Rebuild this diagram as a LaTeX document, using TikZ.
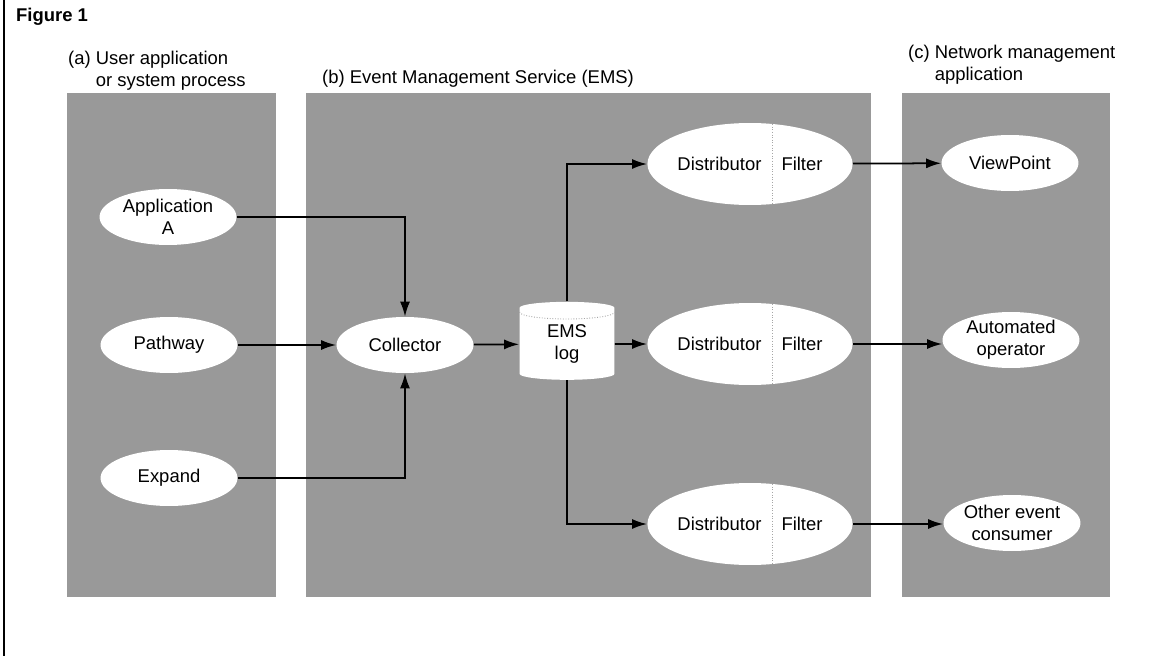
\documentclass[tikz,border=0pt]{standalone}
\usepackage{fontspec}
\setmainfont{Liberation Sans}
\usetikzlibrary{shapes.geometric,positioning,calc,arrows.meta}

\begin{document}
\begin{tikzpicture}[x=0.02cm,y=-0.02cm,
    every node/.style={font=\fontsize{10.5}{12.5}\selectfont},
    panel/.style={fill=black!40,draw=none},
    proc/.style={ellipse,fill=white,inner sep=0pt,align=center,
        minimum width=2.74cm,minimum height=1.12cm},
    distbox/.style={ellipse,fill=white,inner sep=0pt,
        minimum width=3.56cm,minimum height=1.64cm},
    store/.style={cylinder,shape border rotate=90,aspect=0.3,fill=white,
        inner sep=0pt,align=center,minimum width=1.9cm,minimum height=1.56cm},
    flow/.style={-{Latex[length=3mm,width=2mm]},line width=1pt},
    split/.style={black!35,densely dotted,line width=0.5pt},
    heading/.style={anchor=west,align=left}
    ]
    \useasboundingbox (0,0) rectangle (1164,656);
    \draw[line width=1pt] (4,0) -- (4,656);

    %shaded panels
    \fill[panel] (67,93) rectangle (276,597);
    \fill[panel] (306,93) rectangle (871,597);
    \fill[panel] (902,93) rectangle (1110,597);

    %headings
    \node[heading,font=\fontsize{10.5}{12}\selectfont\bfseries] (fig) at (10,17) {Figure 1};
    \node[heading] (labA) at (62,71) {(a) User application\\\hphantom{(a) }or system process};
    \node[heading] (labB) at (316,79) {(b) Event Management Service (EMS)};
    \node[heading] (labC) at (902,65) {(c) Network management\\\hphantom{(c) }application};

    %(a) processes
    \node[proc] (appA) at (168,217) {Application\\A};
    \node[proc] (path) at (169,345) {Pathway};
    \node[proc] (expand) at (169,478) {Expand};

    %(b) EMS
    \node[proc] (coll) at (405,345) {Collector};
    \node[store] (log) at (567,344) {EMS\\log};
    \node[distbox] (dist1) at (750,164) {Distributor\hspace{0.4cm}Filter};
    \node[distbox] (dist2) at (750,344) {Distributor\hspace{0.4cm}Filter};
    \node[distbox] (dist3) at (750,524) {Distributor\hspace{0.4cm}Filter};
    \foreach \d in {dist1,dist2,dist3}
        \draw[split] ($(\d.center)+(22,-40)$) -- ++(0,80);
    \draw[split] ($(log.center)+(-47.5,-32)$)
        arc[start angle=180,end angle=0,x radius=47.5,y radius=7];

    %(c) consumers
    \node[proc] (view) at (1010,163) {ViewPoint};
    \node[proc] (autoop) at (1011,340) {Automated\\operator};
    \node[proc] (other) at (1012,523) {Other event\\consumer};

    %connectors
    \draw[flow] (appA) -| (coll);
    \draw[flow] (path) -- (coll);
    \draw[flow] (expand) -| (coll);
    \draw[flow] (coll) -- (log);
    \draw[flow] (log) |- (dist1);
    \draw[flow] (log) -- (dist2);
    \draw[flow] (log) |- (dist3);
    \draw[flow] (dist1) -- (view);
    \draw[flow] (dist2) -- (dist2 -| autoop.west);
    \draw[flow] (dist3) -- (dist3 -| other.west);
\end{tikzpicture}
\end{document}
